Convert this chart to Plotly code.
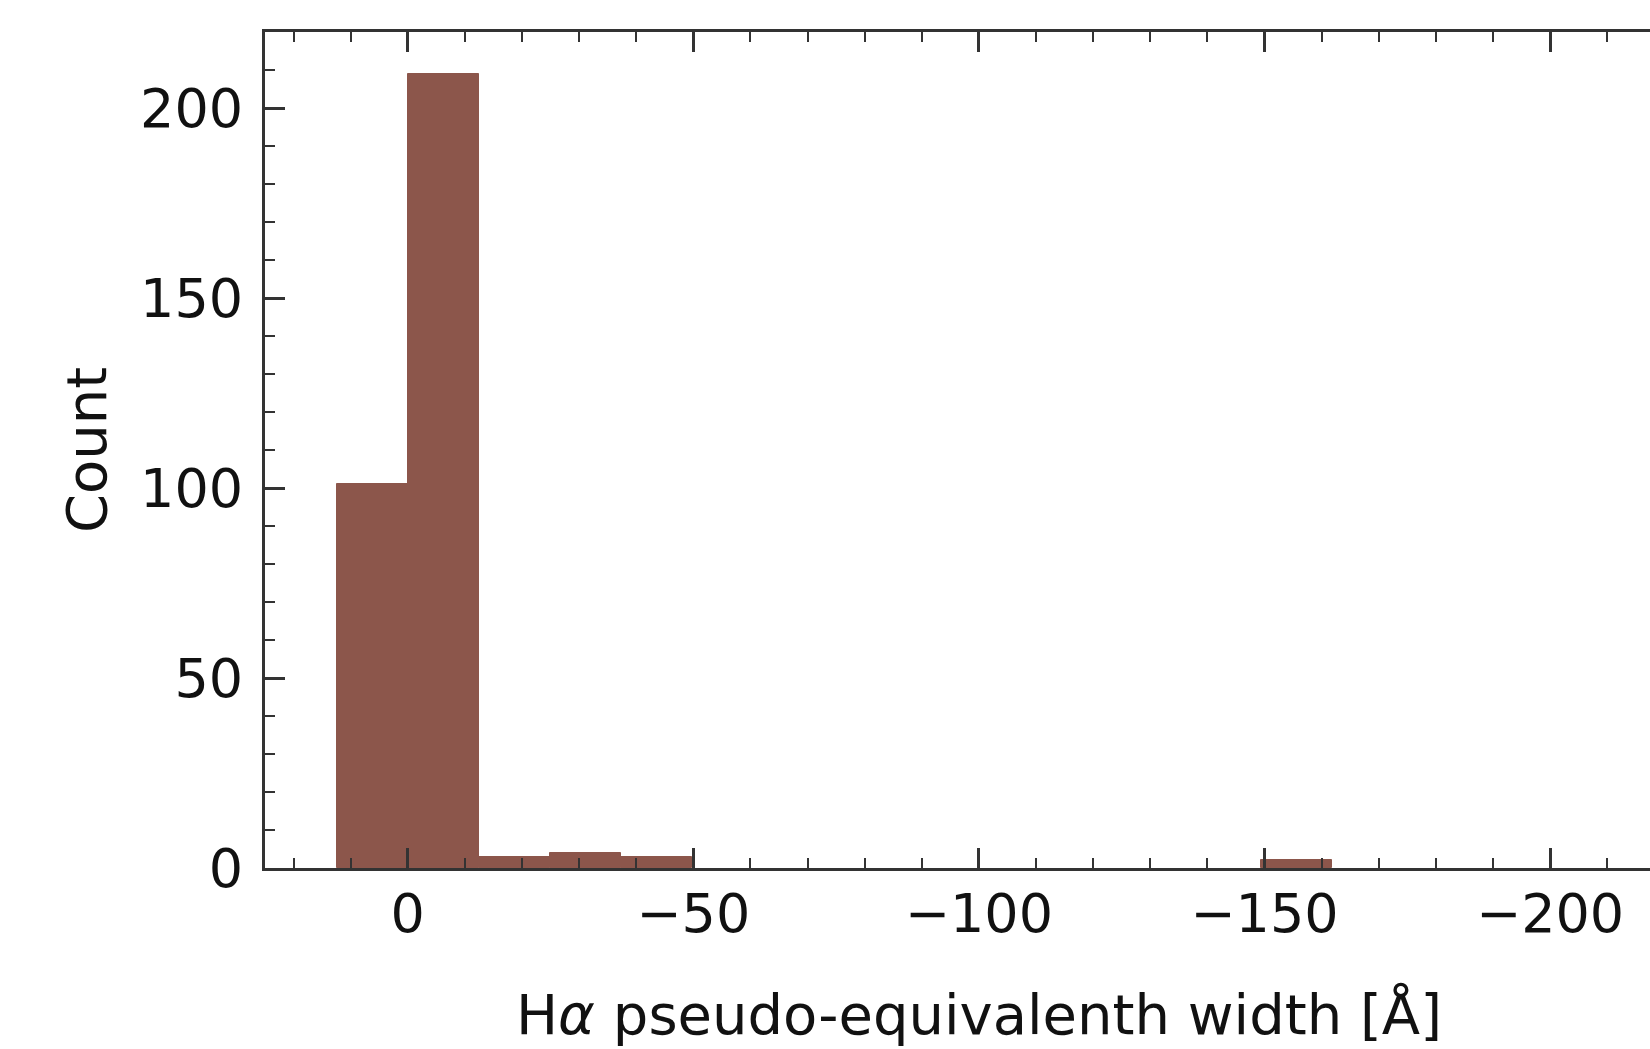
import plotly.graph_objects as go

# Histogram data (bins of equal width, x axis reversed)
bin_width = 12.45
bin_left_edges = [12.45, 0.0, -12.45, -24.9, -37.35, -149.4]
counts = [101, 209, 3, 4, 3, 2]

x_title = "H<i>α</i> pseudo-equivalenth width [Å]"
y_title = "Count"
x_tickvals = [0, -50, -100, -150, -200]
y_tickvals = [0, 50, 100, 150, 200]

centers = [e - bin_width / 2 for e in bin_left_edges]

FONT = "DejaVu Sans"
TICK_SIZE = 54
TITLE_SIZE = 56
fig = go.Figure()
fig.add_trace(go.Bar(
    x=centers, y=counts, width=[bin_width] * len(counts),
    marker=dict(color="#8c564b", line=dict(color="#8c564b", width=1)),
    hoverinfo="x+y",
))

W, H = 1650, 1049
L, R, T, B = 265, 0, 32, 181
fig.update_layout(
    width=W, height=H,
    margin=dict(l=L, r=R, t=T, b=B),
    plot_bgcolor="white", paper_bgcolor="white",
    showlegend=False, bargap=0,
    font=dict(family=FONT, size=TICK_SIZE, color="#111111"),
)
fig.update_xaxes(
    range=[25, -217.5], tickvals=x_tickvals,
    ticks="inside", ticklen=20, tickwidth=2.5, tickcolor="#333",
    showline=True, linecolor="#333", linewidth=3, mirror="ticks",
    showgrid=False, zeroline=False,
    minor=dict(dtick=10, ticks="inside", ticklen=10, tickwidth=2, tickcolor="#333", showgrid=False),
    tickfont=dict(family=FONT, size=TICK_SIZE, color="#111"),
    ticklabelstandoff=-4,
)
fig.update_yaxes(
    range=[0, 220], tickvals=y_tickvals,
    ticks="inside", ticklen=20, tickwidth=2.5, tickcolor="#333",
    showline=True, linecolor="#333", linewidth=3, mirror=False,
    showgrid=False, zeroline=False,
    minor=dict(dtick=10, ticks="inside", ticklen=10, tickwidth=2, tickcolor="#333", showgrid=False),
    tickfont=dict(family=FONT, size=TICK_SIZE, color="#111"),
    ticklabelstandoff=8,
)
fig.add_annotation(
    x=-100, xref="x", y=(H - B - 1014) / (H - T - B), yref="paper",
    yanchor="middle", xanchor="center",
    text=x_title, showarrow=False, font=dict(family=FONT, size=TITLE_SIZE, color="#111"),
)
fig.add_annotation(
    x=(86 - L) / (W - L - R), xref="paper", y=0.5, yref="paper",
    xanchor="center", yanchor="middle", textangle=-90,
    text=y_title, showarrow=False, font=dict(family=FONT, size=TITLE_SIZE, color="#111"),
)
fig.write_html("out.html")
